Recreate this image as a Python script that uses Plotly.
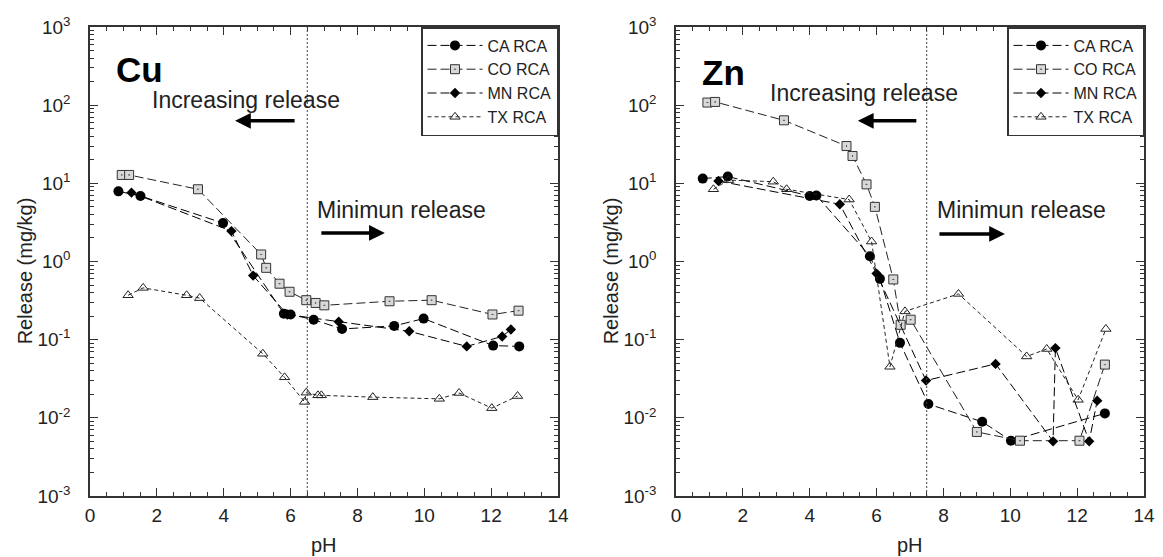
import plotly.graph_objects as go
from plotly.subplots import make_subplots

# ---------------- Cu data ----------------
cu_ca_ph = [0.85, 1.51, 3.98, 5.8, 6.0, 6.69, 7.54, 9.1, 9.98, 12.06, 12.84]
cu_ca_v = [7.9, 6.9, 3.1, 0.215, 0.21, 0.18, 0.137, 0.15, 0.186, 0.084, 0.082]
cu_co_ph = [0.95, 1.17, 3.23, 5.12, 5.27, 5.67, 5.97, 6.47, 6.75, 7.01, 8.96, 10.22, 12.04, 12.82]
cu_co_v = [12.8, 12.8, 8.4, 1.23, 0.83, 0.52, 0.41, 0.32, 0.295, 0.275, 0.31, 0.32, 0.21, 0.235]
cu_mn_ph = [1.24, 4.23, 4.88, 5.9, 7.44, 9.55, 11.27, 12.33, 12.59]
cu_mn_v = [7.6, 2.45, 0.66, 0.21, 0.17, 0.128, 0.082, 0.11, 0.135]
cu_tx_ph = [1.14, 1.59, 2.89, 3.28, 5.17, 5.82, 6.42, 6.47, 6.82, 6.92, 8.46, 10.45, 11.04, 12.02, 12.79]
cu_tx_v = [0.37, 0.46, 0.37, 0.34, 0.066, 0.033, 0.016, 0.021, 0.0194, 0.0194, 0.0184, 0.0175, 0.0208, 0.0133, 0.019]

# ---------------- Zn data ----------------
zn_ca_ph = [0.8, 1.55, 4.0, 4.2, 5.8, 6.1, 6.7, 7.55, 9.16, 10.02, 12.83]
zn_ca_v = [11.5, 12.2, 6.9, 7.0, 1.17, 0.6, 0.091, 0.015, 0.0089, 0.0051, 0.0114]
zn_co_ph = [0.94, 1.17, 3.23, 5.1, 5.28, 5.7, 5.95, 6.5, 6.72, 7.02, 9.0, 10.29, 12.07, 12.83]
zn_co_v = [108, 110, 64, 30, 22.4, 9.7, 5.0, 0.59, 0.155, 0.18, 0.0066, 0.0051, 0.0051, 0.048]
zn_mn_ph = [1.27, 4.9, 6.0, 7.48, 9.56, 11.28, 11.35, 12.36, 12.6]
zn_mn_v = [10.7, 5.4, 0.7, 0.030, 0.049, 0.005, 0.078, 0.005, 0.0166]
zn_tx_ph = [1.12, 1.57, 2.91, 3.31, 5.18, 5.85, 6.4, 6.85, 8.45, 10.49, 11.09, 12.03, 12.86]
zn_tx_v = [8.4, 11.0, 10.5, 8.4, 6.2, 1.8, 0.045, 0.23, 0.385, 0.061, 0.076, 0.017, 0.137]

series_names = ["CA RCA", "CO RCA", "MN RCA", "TX RCA"]
y_tickvals = [1e-3, 1e-2, 1e-1, 1, 10, 100, 1000]
y_ticktext = ["10<sup>-3</sup>", "10<sup>-2</sup>", "10<sup>-1</sup>", "10<sup>0</sup>",
              "10<sup>1</sup>", "10<sup>2</sup>", "10<sup>3</sup>"]
y_minor = [m * 10.0 ** e for e in range(-3, 3) for m in range(2, 10)]
x_tickvals = [0, 2, 4, 6, 8, 10, 12, 14]
x_minor = [i * 0.5 for i in range(29) if i % 4 != 0]

FONT = "Liberation Sans, Arial, Helvetica, sans-serif"
INK = "#222222"
AX = "#333333"

styles = [
    dict(marker=dict(symbol="circle", size=10, color="black"),
         line=dict(color="black", width=1, dash="9px,4px")),
    dict(marker=dict(symbol="square-dot", size=9, color="#d8d8d8",
                     line=dict(color="#333333", width=1)),
         line=dict(color="#222222", width=1, dash="9px,4px")),
    dict(marker=dict(symbol="diamond", size=8, color="black"),
         line=dict(color="black", width=1, dash="9px,4px")),
    dict(marker=dict(symbol="triangle-up-open", size=9, color="#222222",
                     line=dict(width=1)),
         line=dict(color="#222222", width=1, dash="4px,3px")),
]

fig = make_subplots(rows=1, cols=2)

panels = [
    (1, "legend", [(cu_ca_ph, cu_ca_v), (cu_co_ph, cu_co_v), (cu_mn_ph, cu_mn_v), (cu_tx_ph, cu_tx_v)]),
    (2, "legend2", [(zn_ca_ph, zn_ca_v), (zn_co_ph, zn_co_v), (zn_mn_ph, zn_mn_v), (zn_tx_ph, zn_tx_v)]),
]
for col, leg, data in panels:
    for name, (xs, ys), st in zip(series_names, data, styles):
        fig.add_trace(go.Scatter(x=xs, y=ys, mode="lines+markers", name=name,
                                 marker=st["marker"], line=st["line"],
                                 legend=leg, showlegend=True),
                      row=1, col=col)

# vertical dotted lines
fig.add_shape(type="line", xref="x", yref="y domain", x0=6.5, x1=6.5, y0=0, y1=1,
              line=dict(color="#444444", width=1, dash="2px,2px"))
fig.add_shape(type="line", xref="x2", yref="y2 domain", x0=7.5, x1=7.5, y0=0, y1=1,
              line=dict(color="#444444", width=1, dash="2px,2px"))

# page body adds ~8px offset, so the figure is laid out in shifted coordinates
ML, MT = 82, 19
MB = 557 - 488
MR = 1163 - 1136
PW = 1163 - ML - MR
axis_common = dict(showline=True, linecolor=AX, linewidth=1.5, mirror="ticks",
                   ticks="inside", tickcolor=AX, showgrid=False, zeroline=False,
                   automargin=False,
                   tickfont=dict(family=FONT, size=19, color=INK))
for i, dom in [(1, [0, 468 / PW]), (2, [586 / PW, 1.0])]:
    fig.update_xaxes(row=1, col=i, range=[0, 14], domain=dom,
                     tickmode="array", tickvals=x_tickvals,
                     ticklen=8, ticklabelstandoff=1,
                     minor=dict(ticks="inside", ticklen=4, tickvals=x_minor, tickcolor=AX),
                     **axis_common)
    fig.update_yaxes(row=1, col=i, type="log", range=[-3, 3], domain=[0, 1],
                     tickmode="array", tickvals=y_tickvals, ticktext=y_ticktext,
                     ticklen=8, ticklabelstandoff=14,
                     minor=dict(ticks="inside", ticklen=4, tickvals=y_minor, tickcolor=AX),
                     **axis_common)

TXT = dict(family=FONT, size=23, color=INK)
TTL = dict(family=FONT, size=20, color=INK)
ARW = dict(text="", showarrow=True, arrowhead=2, arrowsize=0.9, arrowwidth=3.5, arrowcolor="black")
ann = []
for xr, yr, xd, yd in [("x", "y", "x domain", "y domain"), ("x2", "y2", "x2 domain", "y2 domain")]:
    ann.append(dict(xref=xd, yref=yd, x=0.5, y=-0.1045, text="pH", showarrow=False,
                    yanchor="middle", font=TTL))
    ann.append(dict(xref=xd, yref=yd, x=-0.14, y=0.48, text="Release (mg/kg)", showarrow=False,
                    textangle=-90, xanchor="center", yanchor="middle", font=TTL))
# Cu panel texts
ann.append(dict(xref="x", yref="y", x=0.72, y=2.45, text="<b>Cu</b>", showarrow=False,
                xanchor="left", font=dict(family=FONT, size=35, color="black")))
ann.append(dict(xref="x", yref="y", x=4.67, y=2.066, text="Increasing release", showarrow=False, font=TXT))
ann.append(dict(xref="x", yref="y", x=9.33, y=0.659, text="Minimun release", showarrow=False, font=TXT))
ann.append(dict(xref="x", yref="y", x=4.34, y=1.80, ax=61, ay=0, **ARW))
ann.append(dict(xref="x", yref="y", x=8.82, y=0.365, ax=-65, ay=0, **ARW))
# Zn panel texts
ann.append(dict(xref="x2", yref="y2", x=0.72, y=2.42, text="<b>Zn</b>", showarrow=False,
                xanchor="left", font=dict(family=FONT, size=35, color="black")))
ann.append(dict(xref="x2", yref="y2", x=5.62, y=2.156, text="Increasing release", showarrow=False, font=TXT))
ann.append(dict(xref="x2", yref="y2", x=10.35, y=0.659, text="Minimun release", showarrow=False, font=TXT))
ann.append(dict(xref="x2", yref="y2", x=5.44, y=1.80, ax=60, ay=0, **ARW))
ann.append(dict(xref="x2", yref="y2", x=9.84, y=0.352, ax=-67, ay=0, **ARW))

legend_style = dict(bgcolor="white", bordercolor=AX, borderwidth=1.5,
                    font=dict(family=FONT, size=16, color=INK),
                    xanchor="right", yanchor="top", tracegroupgap=0, itemwidth=55)

fig.update_layout(
    width=1163, height=557,
    margin=dict(l=ML, r=MR, t=MT, b=MB, autoexpand=False),
    paper_bgcolor="white", plot_bgcolor="white",
    font=dict(family=FONT, color=INK),
    annotations=ann,
    legend=dict(x=468 / PW, y=1, **legend_style),
    legend2=dict(x=1.0, y=1, **legend_style),
)

fig.write_html("out.html")
